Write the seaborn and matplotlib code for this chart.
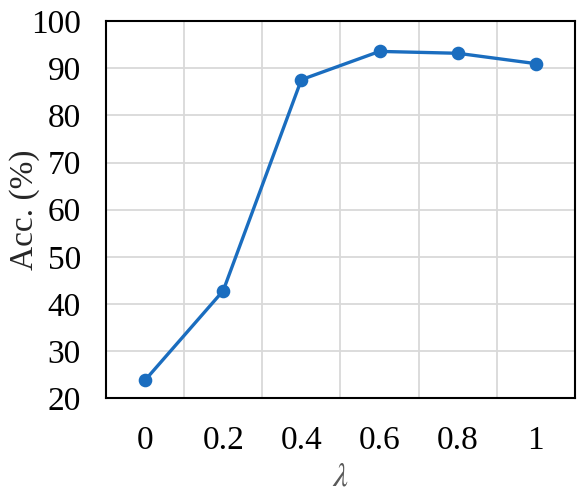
import matplotlib
matplotlib.use("Agg")
import matplotlib.pyplot as plt
import seaborn as sns
import pandas as pd
from matplotlib.ticker import FixedLocator

lam_labels = ["0", "0.2", "0.4", "0.6", "0.8", "1"]
acc = [23.8, 42.8, 87.6, 93.6, 93.2, 91.0]
y_ticks = [20, 30, 40, 50, 60, 70, 80, 90, 100]

sns.set_theme(style="white")
plt.rcParams["font.family"] = ["Liberation Serif", "DejaVu Serif"]
plt.rcParams["mathtext.fontset"] = "stix"

df = pd.DataFrame({"lam": lam_labels, "acc": acc})

fig = plt.figure(figsize=(5.82, 4.94), dpi=100)
ax = fig.add_axes([0.182, 0.194, 0.806, 0.763])

sns.pointplot(data=df, x="lam", y="acc", color="#1A6DBF", ax=ax,
              markers="o", markersize=8, linewidth=2.4, errorbar=None)

ax.set_xlim(-0.5, len(lam_labels) - 0.5)
ax.set_ylim(20, 100)
ax.set_yticks(y_ticks)
ax.xaxis.set_minor_locator(FixedLocator([i + 0.5 for i in range(len(lam_labels) - 1)]))
ax.grid(False)
ax.grid(axis="y", which="major", color="#D9D9D9", linewidth=1.3)
ax.grid(axis="x", which="minor", color="#D9D9D9", linewidth=1.3)
ax.set_axisbelow(True)

for s in ax.spines.values():
    s.set_visible(True)
    s.set_color("black")
    s.set_linewidth(1.5)

ax.tick_params(axis="both", which="both", length=0, labelsize=24, colors="black")
ax.tick_params(axis="y", pad=18)
ax.tick_params(axis="x", pad=20)

ax.set_ylabel("Acc. (%)", fontsize=24)
ax.yaxis.set_label_coords(-0.14, 0.5)
ax.set_xlabel(r"$\lambda$", fontsize=24, color="#595959")
ax.xaxis.set_label_coords(0.5, -0.17)

fig.savefig("out.png", dpi=100)
